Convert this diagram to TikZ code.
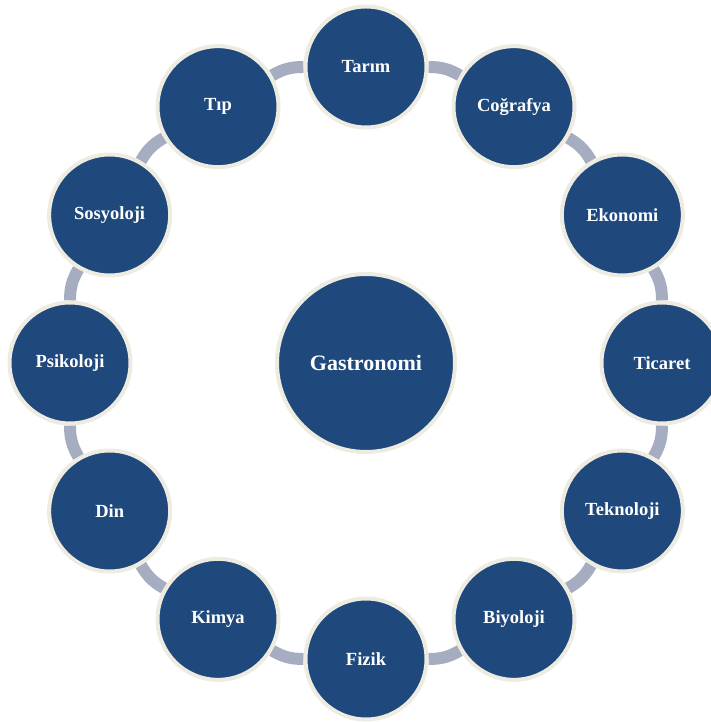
\documentclass[tikz,border=0pt]{standalone}
\usepackage{fontspec}
\setmainfont{Liberation Serif}
\usetikzlibrary{calc}
\definecolor{nodeblue}{HTML}{1F497D}
\definecolor{rimcream}{HTML}{EEECE1}
\definecolor{linkgrey}{HTML}{A6ADC1}
\pgfdeclarelayer{bg}
\pgfsetlayers{bg,main}
\begin{document}
\begin{tikzpicture}[x=1pt,y=1pt,
  topic/.style={circle, fill=nodeblue, draw=rimcream, line width=4pt,
    minimum size=121pt, inner sep=0pt, text=white,
    font=\bfseries\fontsize{18.5}{20}\selectfont},
  hub/.style={topic, minimum size=178pt,
    font=\bfseries\fontsize{22}{24}\selectfont},
  link/.style={draw=linkgrey, line width=12pt}]
\useasboundingbox (0,0) rectangle (711,722);
\coordinate (c) at (366,359);
\node[hub] (gastro) at (c) {Gastronomi};
\foreach \lab [count=\i from 0] in {Tarım,Coğrafya,Ekonomi,Ticaret,Teknoloji,Biyoloji,Fizik,Kimya,Din,Psikoloji,Sosyoloji,Tıp}{
  \node[topic] (n\i) at ($(c)+({90-30*\i}:296)$) {\lab};
}
\begin{pgfonlayer}{bg}
\foreach \i in {0,...,11}{
  \pgfmathtruncatemacro{\j}{mod(\i+1,12)}
  \draw[link] (n\i) to[bend left=15] (n\j);
}
\end{pgfonlayer}
\end{tikzpicture}
\end{document}
